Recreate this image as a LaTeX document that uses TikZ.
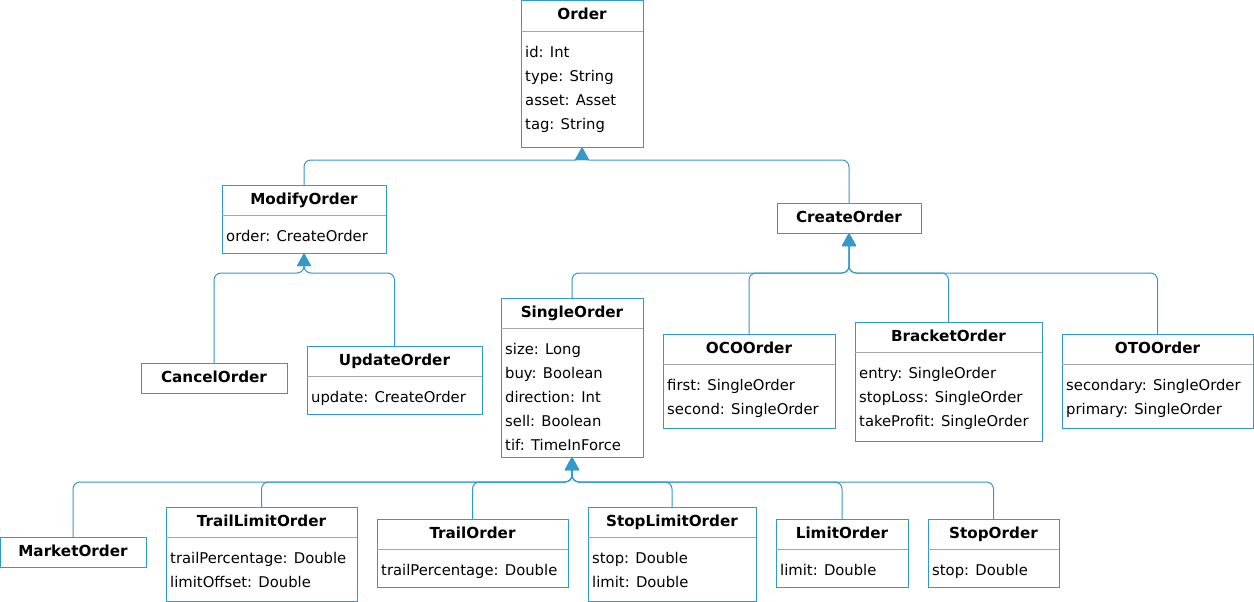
\documentclass[tikz,border=0pt]{standalone}
\usepackage{fontspec}
\setmainfont{DejaVu Sans}
\usetikzlibrary{arrows.meta}
\definecolor{umlblue}{HTML}{3399CC}
\definecolor{sepgray}{HTML}{A6A6A6}
\tikzset{
  clsbox/.style={draw=umlblue, fill=white, line width=1pt, inner sep=0pt, outer sep=0pt, anchor=north west},
  clstitle/.style={font=\fontsize{15.2}{17}\selectfont\bfseries, inner sep=0pt, anchor=base},
  attr/.style={font=\fontsize{14.8}{17}\selectfont, inner sep=0pt, anchor=base west},
  sepline/.style={draw=sepgray, line width=0.8pt},
  edge/.style={draw=umlblue, line width=1pt, rounded corners=7pt, -{Triangle[width=14pt,length=13pt]}}
}
\newcommand\umlclass[7]{% name, x, y, w, h, title, attributes
  \node[clsbox, minimum width=#4pt, minimum height=#5pt] (#1) at (#2,#3) {};
  \node[clstitle] (#1-t) at ([yshift=-19pt]#1.north) {#6};
  \draw[sepline] ([yshift=-30pt]#1.north west) -- ([yshift=-30pt]#1.north east);
  \foreach \a [count=\i] in {#7} {
    \node[attr] (#1-a\i) at ([xshift=4pt, yshift={-32.5pt-24pt*\i}]#1.north west) {\a};
  }
}
\newcommand\umlsimple[6]{% name, x, y, w, h, title
  \node[clsbox, minimum width=#4pt, minimum height=#5pt] (#1) at (#2,#3) {};
  \node[clstitle] (#1-t) at ([yshift=-19.5pt]#1.north) {#6};
}
\begin{document}
\begin{tikzpicture}[x=1pt, y=-1pt]
\useasboundingbox[fill=white] (0,0) rectangle (1254,602);

\umlclass{order}{521}{1}{122}{146}{Order}{id: Int, type: String, asset: Asset, tag: String}
\umlclass{modify}{222}{185}{164}{68}{ModifyOrder}{order: CreateOrder}
\umlsimple{create}{777}{203}{144}{30}{CreateOrder}
\umlsimple{cancel}{141}{363}{146}{30}{CancelOrder}
\umlclass{update}{307}{346}{175}{68}{UpdateOrder}{update: CreateOrder}
\umlclass{single}{501}{298}{142}{159}{SingleOrder}{size: Long, buy: Boolean, direction: Int, sell: Boolean, tif: TimeInForce}
\umlclass{oco}{663}{334}{172}{94}{OCOOrder}{first: SingleOrder, second: SingleOrder}
\umlclass{bracket}{855}{322}{187}{119}{BracketOrder}{entry: SingleOrder, stopLoss: SingleOrder, takeProfit: SingleOrder}
\umlclass{oto}{1062}{334}{191}{94}{OTOOrder}{secondary: SingleOrder, primary: SingleOrder}
\umlsimple{market}{0}{537}{146}{30}{MarketOrder}
\umlclass{traillimit}{166}{507}{191}{94}{TrailLimitOrder}{trailPercentage: Double, limitOffset: Double}
\umlclass{trail}{377}{519}{191}{68}{TrailOrder}{trailPercentage: Double}
\umlclass{stoplimit}{588}{507}{168}{94}{StopLimitOrder}{stop: Double, limit: Double}
\umlclass{limit}{776}{519}{132}{68}{LimitOrder}{limit: Double}
\umlclass{stop}{928}{519}{131}{68}{StopOrder}{stop: Double}

\coordinate (busA) at (0,160);
\coordinate (busB) at (0,273);
\coordinate (busC) at (0,482);

\foreach \c in {modify, create}
  \draw[edge] (\c.north) -- (\c.north |- busA) -- (order.south |- busA) -- (order.south);
\foreach \c in {cancel, update}
  \draw[edge] (\c.north) -- (\c.north |- busB) -- (modify.south |- busB) -- (modify.south);
\foreach \c in {single, oco, bracket, oto}
  \draw[edge] (\c.north) -- (\c.north |- busB) -- (create.south |- busB) -- (create.south);
\foreach \c in {market, traillimit, trail, stoplimit, limit, stop}
  \draw[edge] (\c.north) -- (\c.north |- busC) -- (single.south |- busC) -- (single.south);
\end{tikzpicture}
\end{document}
